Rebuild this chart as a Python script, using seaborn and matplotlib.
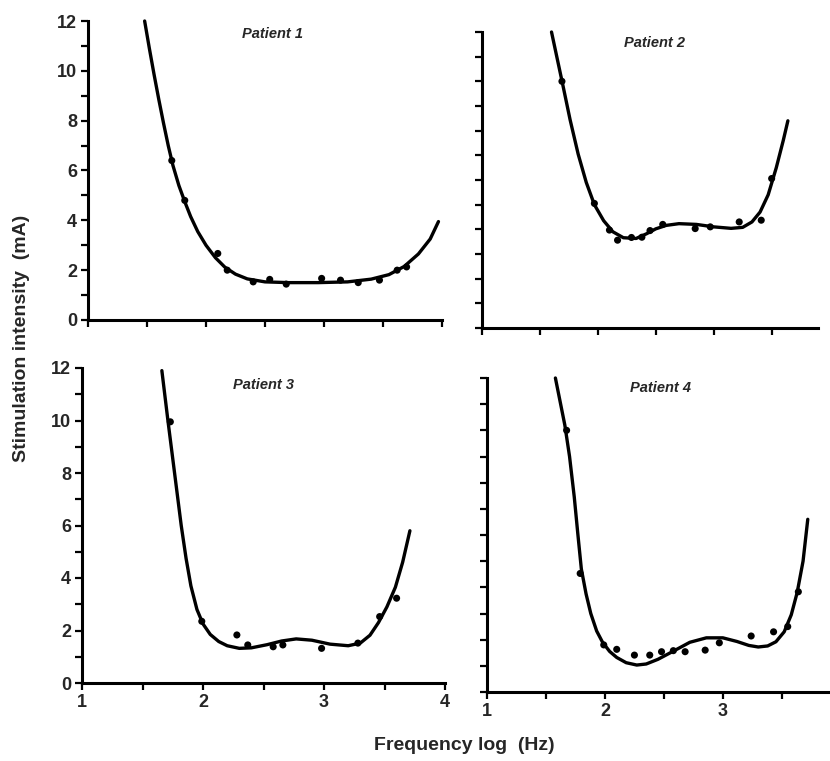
import numpy as np
import pandas as pd
import matplotlib
matplotlib.use("Agg")
import matplotlib.pyplot as plt
import seaborn as sns
from matplotlib.ticker import MultipleLocator

# ---------------- data ----------------
panel_titles = ["Patient 1", "Patient 2", "Patient 3", "Patient 4"]

# Patient 1
p1_x = [1.71, 1.82, 2.10, 2.18, 2.40, 2.54, 2.68, 2.98, 3.14, 3.29, 3.47, 3.62, 3.70]
p1_y = [6.4, 4.8, 2.67, 2.0, 1.53, 1.63, 1.44, 1.67, 1.6, 1.5, 1.6, 2.0, 2.13]
c1_x = [1.48, 1.52, 1.56, 1.60, 1.64, 1.68, 1.72, 1.77, 1.82, 1.87, 1.93, 2.00, 2.08,
        2.16, 2.25, 2.35, 2.50, 2.70, 2.95, 3.20, 3.40, 3.55, 3.68, 3.80, 3.90, 3.97]
c1_y = [12.0, 10.9, 9.85, 8.85, 7.9, 7.0, 6.2, 5.4, 4.75, 4.15, 3.55, 3.0, 2.5,
        2.12, 1.84, 1.65, 1.53, 1.5, 1.5, 1.53, 1.64, 1.82, 2.15, 2.65, 3.25, 3.95]

# Patient 2
p2_x = [1.69, 1.97, 2.10, 2.17, 2.29, 2.38, 2.45, 2.56, 2.84, 2.97, 3.22, 3.41, 3.50]
p2_y = [10.0, 5.05, 3.97, 3.56, 3.67, 3.68, 3.95, 4.2, 4.03, 4.1, 4.3, 4.37, 6.06]
c2_x = [1.60, 1.65, 1.70, 1.76, 1.83, 1.90, 1.97, 2.05, 2.13, 2.22, 2.33, 2.42, 2.50,
        2.59, 2.70, 2.85, 3.00, 3.15, 3.25, 3.33, 3.40, 3.47, 3.54, 3.60, 3.64]
c2_y = [12.0, 10.9, 9.8, 8.45, 7.05, 5.9, 5.0, 4.35, 3.9, 3.66, 3.63, 3.82, 4.02,
        4.16, 4.23, 4.2, 4.1, 4.04, 4.08, 4.3, 4.7, 5.4, 6.5, 7.6, 8.4]

# Patient 3
p3_x = [1.73, 1.99, 2.28, 2.37, 2.58, 2.66, 2.98, 3.28, 3.46, 3.60]
p3_y = [9.95, 2.35, 1.83, 1.45, 1.38, 1.45, 1.32, 1.52, 2.53, 3.23]
c3_x = [1.66, 1.71, 1.765, 1.82, 1.86, 1.90, 1.95, 2.00, 2.06, 2.13, 2.20, 2.30, 2.40,
        2.53, 2.65, 2.77, 2.90, 3.05, 3.20, 3.30, 3.38, 3.45, 3.52, 3.59, 3.65, 3.71]
c3_y = [11.9, 10.0, 8.0, 6.0, 4.75, 3.7, 2.8, 2.25, 1.85, 1.58, 1.42, 1.32, 1.34,
        1.46, 1.6, 1.68, 1.63, 1.48, 1.42, 1.52, 1.82, 2.3, 2.9, 3.65, 4.6, 5.8]

# Patient 4
p4_x = [1.675, 1.79, 1.99, 2.10, 2.25, 2.38, 2.48, 2.58, 2.68, 2.85, 2.97, 3.24, 3.43, 3.55, 3.64]
p4_y = [10.0, 4.53, 1.8, 1.63, 1.41, 1.41, 1.54, 1.58, 1.54, 1.6, 1.88, 2.14, 2.3, 2.5, 3.83]
c4_x = [1.58, 1.62, 1.66, 1.70, 1.74, 1.77, 1.80, 1.84, 1.88, 1.93, 1.98, 2.04, 2.10,
        2.18, 2.27, 2.35, 2.45, 2.58, 2.72, 2.86, 3.00, 3.12, 3.22, 3.30, 3.38, 3.45,
        3.52, 3.58, 3.63, 3.68, 3.72]
c4_y = [12.0, 11.1, 10.2, 9.0, 7.45, 6.05, 4.7, 3.75, 3.0, 2.33, 1.9, 1.55, 1.32,
        1.12, 1.03, 1.07, 1.25, 1.56, 1.9, 2.07, 2.07, 1.93, 1.78, 1.72, 1.76, 1.92,
        2.3, 2.95, 3.8, 5.0, 6.6]

x_ticks = [1, 2, 3, 4]
y_ticks = [0, 2, 4, 6, 8, 10, 12]
x_label = "Frequency log  (Hz)"
y_label = "Stimulation intensity  (mA)"

points = [(p1_x, p1_y), (p2_x, p2_y), (p3_x, p3_y), (p4_x, p4_y)]
curves = [(c1_x, c1_y), (c2_x, c2_y), (c3_x, c3_y), (c4_x, c4_y)]

# ---------------- style ----------------
sns.set_style("ticks")
plt.rcParams['font.family'] = ['Liberation Sans', 'DejaVu Sans']
plt.rcParams['font.weight'] = 'bold'

W, H = 830, 761
fig = plt.figure(figsize=(W / 100, H / 100), dpi=100)

# pixel geometry of each panel: x-left, x-right, y-top (12), y-bottom (0), xmax
geom = [
    (88, 442, 21, 320, 4.0),
    (482, 818, 32, 328, 3.9),
    (82, 445, 368, 683, 4.0),
    (487, 829, 378, 692, 3.9),
]
title_pos = [(2.56, 11.48), (2.49, 11.54), (2.50, 11.35), (2.47, 11.62)]
show_ylabels = [True, False, True, False]
show_xlabels = [False, False, True, True]

for i in range(4):
    x0, x1, yt, yb, xmax = geom[i]
    ax = fig.add_axes([x0 / W, 1 - yb / H, (x1 - x0) / W, (yb - yt) / H])
    cx, cy = curves[i]
    px, py = points[i]
    dfc = pd.DataFrame({"x": cx, "y": cy})
    dfp = pd.DataFrame({"x": px, "y": py})
    sns.lineplot(data=dfc, x="x", y="y", sort=False, estimator=None, color="black",
                 linewidth=2.4, ax=ax, clip_on=False, solid_joinstyle="round",
                 solid_capstyle="round")
    sns.scatterplot(data=dfp, x="x", y="y", color="black", s=26, edgecolor="none",
                    ax=ax, clip_on=False, zorder=3)
    ax.set_xlim(1, xmax)
    ax.set_ylim(0, 12)
    ax.set_xlabel("")
    ax.set_ylabel("")
    sns.despine(ax=ax)
    for s in ("left", "bottom"):
        ax.spines[s].set_linewidth(2.2)
        ax.spines[s].set_color("black")
    ax.set_xticks([t for t in x_ticks if t <= xmax])
    ax.set_yticks(y_ticks)
    ax.xaxis.set_minor_locator(MultipleLocator(0.5))
    ax.yaxis.set_minor_locator(MultipleLocator(1))
    ax.tick_params(which="both", direction="out", length=5, width=1.6, color="black",
                   labelsize=13, pad=3)
    if not show_ylabels[i]:
        ax.set_yticklabels([])
    if not show_xlabels[i]:
        ax.set_xticklabels([])
    for lab in ax.get_xticklabels() + ax.get_yticklabels():
        lab.set_fontweight("bold")
    ax.text(title_pos[i][0], title_pos[i][1], panel_titles[i], ha="center", va="center",
            fontsize=10.5, fontweight="bold", fontstyle="italic")

fig.text(0.026, 0.556, y_label, rotation=90, ha="center", va="center",
         fontsize=14, fontweight="bold")
fig.text(0.56, 0.021, x_label, ha="center", va="center",
         fontsize=14, fontweight="bold")

fig.savefig("out.png", dpi=100)
